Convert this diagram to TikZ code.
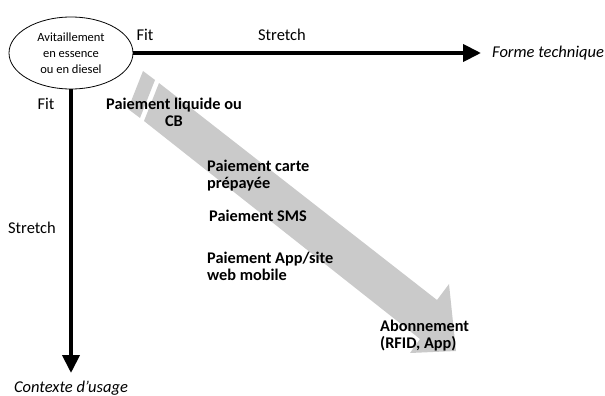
\documentclass[tikz,border=0pt]{standalone}
\usepackage{fontspec}
\setmainfont{Carlito}
\usetikzlibrary{arrows.meta,shapes.geometric}
\definecolor{bandgrey}{RGB}{202,202,202}
\begin{document}
\begin{tikzpicture}[x=1pt,y=-1pt,
  axis/.style={line width=4pt,-{Triangle[length=18pt,width=17pt]}},
  lbl/.style={font=\fontsize{16.5}{18}\selectfont,inner sep=0pt},
  axlbl/.style={font=\fontsize{16.5}{18}\selectfont\itshape,inner sep=0pt},
  pay/.style={font=\fontsize{16.3}{17}\selectfont\bfseries,inner sep=0pt,align=left},
  band/.style={fill=bandgrey,draw=none}]
\useasboundingbox (0,0) rectangle (605,396);
% grey striped arrow
\coordinate (t1) at (143,71);
\coordinate (t2) at (155,80);
\coordinate (t3) at (140,118);
\coordinate (t4) at (128,109);
\coordinate (b1) at (159,83);
\coordinate (n1) at (437,300);
\coordinate (h1) at (449,284);
\coordinate (tip) at (456,351);
\coordinate (h2) at (410,353);
\coordinate (n2) at (420,339);
\coordinate (b2) at (144,121);
\fill[band] (t1) -- (t2) -- (t3) -- (t4) -- cycle;
\fill[band] (b1) -- (n1) -- (h1) -- (tip) -- (h2) -- (n2) -- (b2) -- cycle;
% ellipse
\node[ellipse,draw,line width=0.8pt,minimum width=124pt,minimum height=72pt,inner sep=0pt,align=center,
  font=\fontsize{12.5}{16}\selectfont] (E) at (71,53) {Avitaillement\\en essence\\ou en diesel};
% axes
\node[axlbl,anchor=west] (ft) at (492,53) {Forme technique};
\node[axlbl] (cu) at (71,388) {Contexte d’usage};
\coordinate (hend) at (481,53);
\coordinate (vend) at (71,373);
\draw[axis] (E.east) -- (hend);
\draw[axis] (E.south) -- (vend);
\node[lbl] (fit1) at (145,35) {Fit};
\node[lbl] (st1) at (282,35) {Stretch};
\node[lbl] (fit2) at (46,104) {Fit};
\node[lbl] (st2) at (32,228) {Stretch};
% payment labels
\node[pay,align=center] (p1) at (174,112) {Paiement liquide ou\\CB};
\node[pay,anchor=north west] (p2) at (207,160) {Paiement carte\\prépayée};
\node[pay,anchor=west] (p3) at (209,216) {Paiement SMS};
\node[pay,anchor=north west] (p4) at (207,252) {Paiement App/site\\web mobile};
\node[pay,anchor=north west] (p5) at (380,320) {Abonnement\\(RFID, App)};
\end{tikzpicture}
\end{document}
